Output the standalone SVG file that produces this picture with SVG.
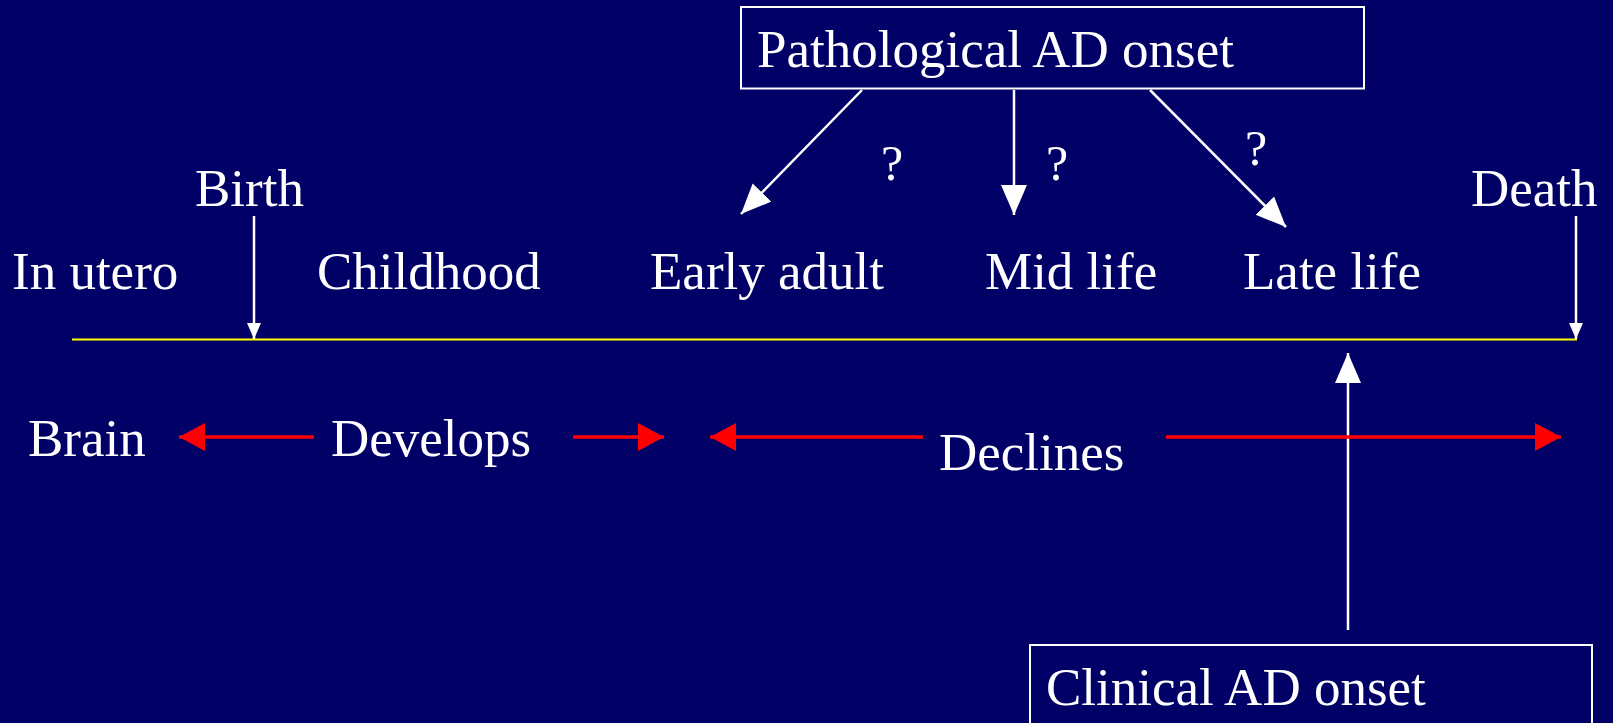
<svg xmlns="http://www.w3.org/2000/svg" width="1613" height="723" viewBox="0 0 1613 723">
<style>
text{font-family:"Liberation Serif","Times New Roman",serif;fill:#fff;font-size:53px}
.box{fill:none;stroke:#fff;stroke-width:2}
.w{stroke:#fff;stroke-width:2.5;fill:none}
.r{stroke:#f00;stroke-width:3.5;fill:none}
</style>
<defs>
<marker id="big" markerUnits="userSpaceOnUse" markerWidth="32" markerHeight="28" refX="30" refY="13" orient="auto"><path d="M0,0 L30,13 L0,26 z" fill="#fff"/></marker>
<marker id="small" markerUnits="userSpaceOnUse" markerWidth="18" markerHeight="16" refX="16" refY="7" orient="auto"><path d="M0,0 L16,7 L0,14 z" fill="#fff"/></marker>
<marker id="red" markerUnits="userSpaceOnUse" markerWidth="28" markerHeight="30" refX="26" refY="14" orient="auto"><path d="M0,0 L26,14 L0,28 z" fill="#f00"/></marker>
</defs>
<rect width="1613" height="723" fill="#000066"/>
<g id="timeline"><line x1="72" y1="339.5" x2="1577" y2="339.5" stroke="#ff0" stroke-width="2"/></g>
<g id="pathological"><rect class="box" x="741" y="7" width="623" height="81.5"/><text x="757" y="67">Pathological AD onset</text></g>
<g id="clinical"><rect class="box" x="1030" y="645" width="562" height="90"/><text x="1046" y="705">Clinical AD onset</text></g>
<g id="labels">
<text x="195" y="206">Birth</text>
<text x="1471" y="206">Death</text>
<text x="12" y="289">In utero</text>
<text x="317" y="289">Childhood</text>
<text x="650" y="289">Early adult</text>
<text x="985" y="289">Mid life</text>
<text x="1243" y="289">Late life</text>
<text x="28" y="456">Brain</text>
<text x="331" y="456">Develops</text>
<text x="939" y="470">Declines</text>
<text x="881" y="180" style="font-size:50px">?</text>
<text x="1046" y="180" style="font-size:50px">?</text>
<text x="1245" y="165" style="font-size:50px">?</text>
</g>
<g id="connectors">
<line class="w" x1="254" y1="216" x2="254" y2="339" marker-end="url(#small)"/>
<line class="w" x1="1576" y1="216" x2="1576" y2="339" marker-end="url(#small)"/>
<line class="w" x1="862" y1="90" x2="741" y2="214" marker-end="url(#big)"/>
<line class="w" x1="1014" y1="90" x2="1014" y2="215" marker-end="url(#big)"/>
<line class="w" x1="1150" y1="90" x2="1286" y2="227" marker-end="url(#big)"/>
<line class="w" x1="1348" y1="630" x2="1348" y2="353" marker-end="url(#big)"/>
<line class="r" x1="314" y1="437" x2="179" y2="437" marker-end="url(#red)"/>
<line class="r" x1="573" y1="437" x2="664" y2="437" marker-end="url(#red)"/>
<line class="r" x1="923" y1="437" x2="710" y2="437" marker-end="url(#red)"/>
<line class="r" x1="1166" y1="437" x2="1561" y2="437" marker-end="url(#red)"/>
</g>
</svg>
